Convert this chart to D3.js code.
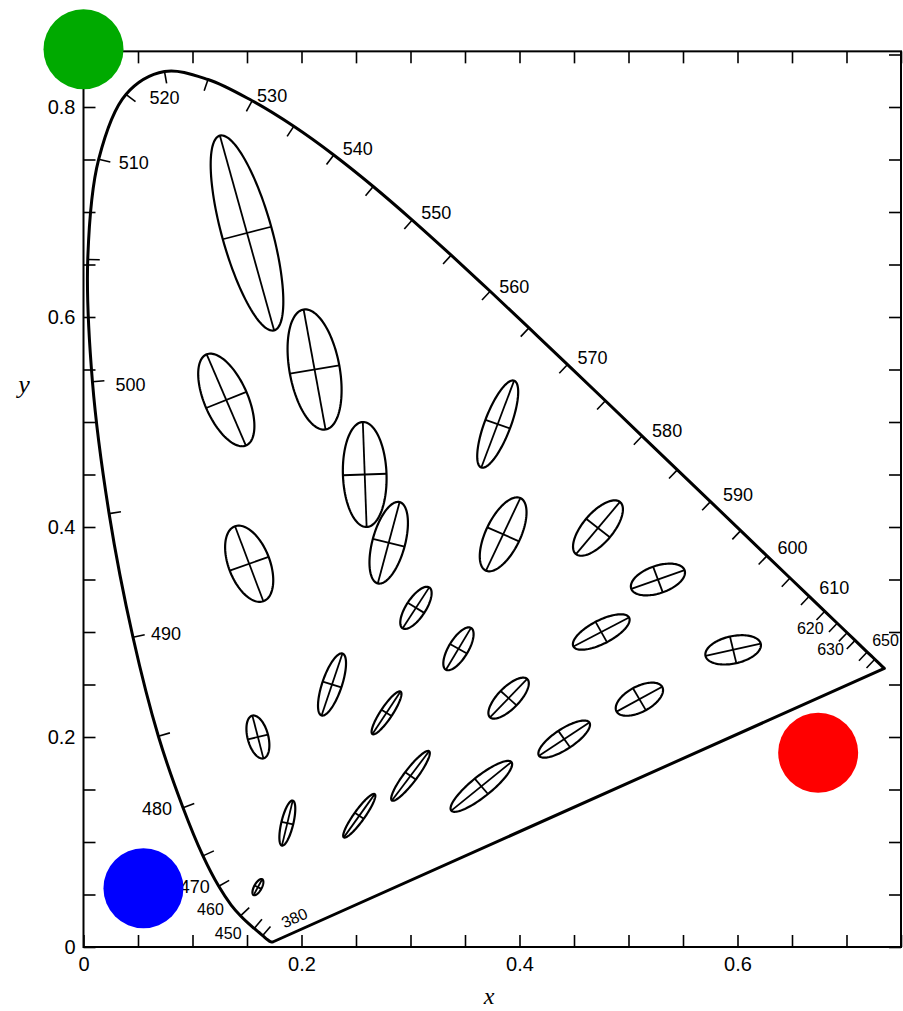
<!DOCTYPE html>
<html>
<head>
<meta charset="utf-8">
<script src="https://cdn.jsdelivr.net/npm/d3@7"></script>
<style>
  body { margin: 0; background: #fff; }
  text { font-family: "Liberation Sans", Arial, sans-serif; }
</style>
</head>
<body>
<div id="container"></div>
<script>
// spectral locus, chromaticity of each wavelength (nm)
let wavelengths = [380, 390, 400, 410, 420, 430, 440, 445, 450, 455, 460, 465, 470, 475, 480, 485, 490, 495,
                   500, 505, 510, 515, 520, 525, 530, 535, 540, 545, 550, 555, 560, 565, 570, 575, 580, 585,
                   590, 595, 600, 605, 610, 615, 620, 625, 630, 635, 640, 645, 650, 660, 700];
let locusX = [0.1741, 0.1738, 0.1733, 0.1726, 0.1714, 0.1689, 0.1644, 0.1611, 0.1566, 0.1510, 0.1440, 0.1355, 0.1241, 0.1096, 0.0913, 0.0687, 0.0454, 0.0235,
              0.0082, 0.0039, 0.0139, 0.0389, 0.0743, 0.1142, 0.1547, 0.1929, 0.2296, 0.2658, 0.3016, 0.3373, 0.3731, 0.4087, 0.4441, 0.4788, 0.5125, 0.5448,
              0.5752, 0.6029, 0.6270, 0.6482, 0.6658, 0.6801, 0.6915, 0.7006, 0.7079, 0.7140, 0.7190, 0.7230, 0.7260, 0.7311, 0.7347];
let locusY = [0.0050, 0.0049, 0.0048, 0.0048, 0.0051, 0.0069, 0.0109, 0.0138, 0.0177, 0.0227, 0.0297, 0.0399, 0.0578, 0.0868, 0.1327, 0.2007, 0.2950, 0.4127,
              0.5384, 0.6548, 0.7502, 0.8120, 0.8338, 0.8262, 0.8059, 0.7816, 0.7543, 0.7243, 0.6923, 0.6589, 0.6245, 0.5896, 0.5547, 0.5202, 0.4866, 0.4544,
              0.4242, 0.3965, 0.3725, 0.3514, 0.3340, 0.3197, 0.3083, 0.2993, 0.2920, 0.2859, 0.2809, 0.2770, 0.2740, 0.2689, 0.2653];

let tickWavelengths = [440, 450, 460, 470, 475, 480, 485, 490, 495, 500, 505, 510, 515, 520, 525, 530, 535, 540, 545,
                       550, 555, 560, 565, 570, 575, 580, 585, 590, 595, 600, 605, 610, 615, 620, 625, 630, 640, 650];
let labelWavelengths = [380, 450, 460, 470, 480, 490, 500, 510, 520, 530, 540, 550, 560, 570, 580, 590, 600, 610, 620, 630, 650];

// MacAdam ellipses: centre x, y, semi axes a, b (x 1e-3), angle of a (deg)
let ellipseX = [0.160, 0.187, 0.253, 0.150, 0.131, 0.212, 0.258, 0.152, 0.280, 0.380, 0.160, 0.228, 0.305,
                0.385, 0.472, 0.527, 0.475, 0.510, 0.596, 0.344, 0.390, 0.441, 0.278, 0.300, 0.365];
let ellipseY = [0.057, 0.118, 0.125, 0.680, 0.521, 0.550, 0.450, 0.365, 0.385, 0.498, 0.200, 0.250, 0.323,
                0.393, 0.399, 0.350, 0.300, 0.236, 0.283, 0.284, 0.237, 0.198, 0.223, 0.163, 0.153];
let ellipseA = [0.85, 2.2, 2.5, 9.6, 4.7, 5.8, 5.0, 3.8, 4.0, 4.4, 2.1, 3.1, 2.3,
                3.8, 3.2, 2.6, 2.9, 2.4, 2.6, 2.3, 2.5, 2.8, 2.4, 2.9, 3.6];
let ellipseB = [0.35, 0.55, 0.5, 2.3, 2.0, 2.3, 2.0, 1.9, 1.5, 1.2, 0.95, 0.9, 0.9,
                1.6, 1.4, 1.3, 1.1, 1.2, 1.3, 0.9, 1.0, 0.95, 0.55, 0.6, 0.95];
let ellipseTheta = [62.5, 77, 55.5, 105, 112.5, 100, 92, 110, 75.5, 70, 104, 72, 58,
                    65.5, 51, 20, 28.5, 29.5, 13, 60, 47, 34.5, 57.5, 54, 40];
let magnification = 10;

// primaries markers
let primaryNames = ["green", "blue", "red"];
let primaryX = [0.0, 0.055, 0.674];
let primaryY = [0.855, 0.056, 0.185];

let xTickLabels = [0, 0.2, 0.4, 0.6];
let yTickLabels = [0, 0.2, 0.4, 0.6, 0.8];

let W = 903, H = 1011;
let svg = d3.select('#container').append("svg")
    .attr("width", W)
    .attr("height", H);

let xScale = d3.scaleLinear().domain([0, 0.75]).range([83.5, 901]);
let yScale = d3.scaleLinear().domain([0, 0.8]).range([947, 107]);
let yTop = 0.853;

let color = d3.scaleOrdinal().domain(primaryNames).range(["#00aa00", "#0000ff", "#ff0000"]);

function fmt(d) {
  return d === 0 ? "0" : d3.format(".1f")(d);
}
function isLabel(list, d) {
  return list.some(v => Math.abs(v - d) < 1e-9);
}

// frame
svg.append("rect")
    .attr("x", xScale(0))
    .attr("y", yScale(yTop))
    .attr("width", xScale(0.75) - xScale(0))
    .attr("height", yScale(0) - yScale(yTop))
    .attr("fill", "none")
    .attr("stroke", "#000")
    .attr("stroke-width", 2);

let xTicks = d3.range(0, 0.7501, 0.05);
let yTicks = d3.range(0, yTop, 0.05);

let xAxis = svg.append("g")
    .attr("transform", "translate(0," + yScale(0) + ")")
    .call(d3.axisBottom(xScale).tickValues(xTicks).tickSize(-12).tickPadding(10)
      .tickFormat(d => isLabel(xTickLabels, d) ? fmt(d) : ""));
let xAxisTop = svg.append("g")
    .attr("transform", "translate(0," + yScale(yTop) + ")")
    .call(d3.axisTop(xScale).tickValues(xTicks).tickSize(-12).tickFormat(""));
let yAxis = svg.append("g")
    .attr("transform", "translate(" + xScale(0) + ",0)")
    .call(d3.axisLeft(yScale).tickValues(yTicks).tickSize(-12).tickPadding(8)
      .tickFormat(d => isLabel(yTickLabels, d) ? fmt(d) : ""));
let yAxisRight = svg.append("g")
    .attr("transform", "translate(" + xScale(0.75) + ",0)")
    .call(d3.axisRight(yScale).tickValues(yTicks).tickSize(-12).tickFormat(""));

[xAxis, xAxisTop, yAxis, yAxisRight].forEach(g => {
  g.select(".domain").remove();
  g.selectAll(".tick line").attr("stroke", "#000").attr("stroke-width", 1.6);
  g.selectAll("text")
    .attr("font-size", 20)
    .attr("fill", "#000")
    .style("font-family", "'Liberation Sans', Arial, sans-serif");
});

// axis titles
svg.append("text")
    .attr("x", 24).attr("y", 393)
    .attr("text-anchor", "middle")
    .style("font-family", "'Liberation Serif', 'DejaVu Serif', serif")
    .style("font-style", "italic")
    .attr("font-size", 26)
    .text("y");
svg.append("text")
    .attr("x", 489).attr("y", 1004)
    .attr("text-anchor", "middle")
    .style("font-family", "'Liberation Serif', 'DejaVu Serif', serif")
    .style("font-style", "italic")
    .attr("font-size", 24)
    .text("x");

// spectral locus + purple line
let locus = wavelengths.map((w, i) => ({w: w, x: locusX[i], y: locusY[i]}));
let locusLine = d3.line()
    .x(d => xScale(d.x))
    .y(d => yScale(d.y))
    .curve(d3.curveCatmullRom);

svg.append("path")
    .attr("d", locusLine(locus) + "Z")
    .attr("fill", "none")
    .attr("stroke", "#000")
    .attr("stroke-width", 3)
    .attr("stroke-linejoin", "round");

// wavelength ticks, pointing inside
let cx = xScale(0.33), cy = yScale(0.33);
function normalAt(w) {
  let i = wavelengths.indexOf(w);
  let p = locus[i];
  let a = locus[Math.max(0, i - 1)], b = locus[Math.min(locus.length - 1, i + 1)];
  let px = xScale(p.x), py = yScale(p.y);
  let tx = xScale(b.x) - xScale(a.x), ty = yScale(b.y) - yScale(a.y);
  let len = Math.sqrt(tx * tx + ty * ty);
  let nx = -ty / len, ny = tx / len;
  if (nx * (cx - px) + ny * (cy - py) < 0) { nx = -nx; ny = -ny; }
  return {px: px, py: py, nx: nx, ny: ny};
}

svg.append("g").selectAll("line")
    .data(tickWavelengths)
    .enter().append("line")
      .each(function(w) {
        let n = normalAt(w);
        d3.select(this)
          .attr("x1", n.px).attr("y1", n.py)
          .attr("x2", n.px + 12 * n.nx).attr("y2", n.py + 12 * n.ny);
      })
      .attr("stroke", "#000")
      .attr("stroke-width", 1.6);

// label placement: offset (px) of label centre from the locus point, font size, rotation
let labelPlace = {
  380: [21, -24, 16, -24], 450: [-26, 5, 16, 0], 460: [-30, -7, 16, 0], 470: [-24, 0, 18, 0],
  480: [-26, 1, 18, 0], 490: [33, -4, 18, 0], 500: [38, 3, 18, 0], 510: [35, 3, 18, 0],
  520: [0, 26, 18, 0], 530: [20, -5, 18, 0], 540: [24, -6, 18, 0], 550: [24, -7.5, 18, 0],
  560: [24, -5, 18, 0], 570: [25, -7, 18, 0], 580: [25, -6, 18, 0], 590: [27.5, -7.5, 18, 0],
  600: [25.5, -8.4, 18, 0], 610: [25, -9, 18, 0], 620: [-27, 5, 16, 0], 630: [-24.6, 8.6, 16, 0],
  650: [10.7, -18.8, 16, 0]
};

svg.append("g").selectAll("text")
    .data(labelWavelengths)
    .enter().append("text")
      .attr("transform", function(w) {
        let p = locus[wavelengths.indexOf(w)];
        let o = labelPlace[w];
        return "translate(" + (xScale(p.x) + o[0]) + "," + (yScale(p.y) + o[1]) + ") rotate(" + o[3] + ")";
      })
      .attr("text-anchor", "middle")
      .attr("dy", "0.36em")
      .attr("font-size", w => labelPlace[w][2])
      .attr("fill", "#000")
      .text(w => w);

// ellipses (magnified)
let ellipseData = ellipseX.map((x, i) => ({
  x: x, y: ellipseY[i],
  a: ellipseA[i] * 1e-3 * magnification,
  b: ellipseB[i] * 1e-3 * magnification,
  t: ellipseTheta[i] * Math.PI / 180
}));

let ellipseLine = d3.line()
    .x(d => xScale(d[0]))
    .y(d => yScale(d[1]))
    .curve(d3.curveLinearClosed);

function ellipsePoints(e) {
  return d3.range(0, 120).map(k => {
    let s = k / 120 * 2 * Math.PI;
    let u = e.a * Math.cos(s), v = e.b * Math.sin(s);
    return [e.x + u * Math.cos(e.t) - v * Math.sin(e.t), e.y + u * Math.sin(e.t) + v * Math.cos(e.t)];
  });
}

let ell = svg.append("g").selectAll(".ellipse")
    .data(ellipseData)
    .enter().append("g")
      .attr("class", "ellipse");

ell.append("path")
    .attr("d", d => ellipseLine(ellipsePoints(d)))
    .attr("fill", "none")
    .attr("stroke", "#000")
    .attr("stroke-width", 2.2);

ell.append("line")
    .attr("x1", d => xScale(d.x - d.a * Math.cos(d.t)))
    .attr("y1", d => yScale(d.y - d.a * Math.sin(d.t)))
    .attr("x2", d => xScale(d.x + d.a * Math.cos(d.t)))
    .attr("y2", d => yScale(d.y + d.a * Math.sin(d.t)))
    .attr("stroke", "#000")
    .attr("stroke-width", 1.8);

ell.append("line")
    .attr("x1", d => xScale(d.x + d.b * Math.sin(d.t)))
    .attr("y1", d => yScale(d.y - d.b * Math.cos(d.t)))
    .attr("x2", d => xScale(d.x - d.b * Math.sin(d.t)))
    .attr("y2", d => yScale(d.y + d.b * Math.cos(d.t)))
    .attr("stroke", "#000")
    .attr("stroke-width", 1.8);

// primaries
svg.append("g").selectAll("circle")
    .data(primaryNames)
    .enter().append("circle")
      .attr("cx", (d, i) => xScale(primaryX[i]))
      .attr("cy", (d, i) => yScale(primaryY[i]))
      .attr("r", 40)
      .attr("fill", d => color(d));
</script>
</body>
</html>
